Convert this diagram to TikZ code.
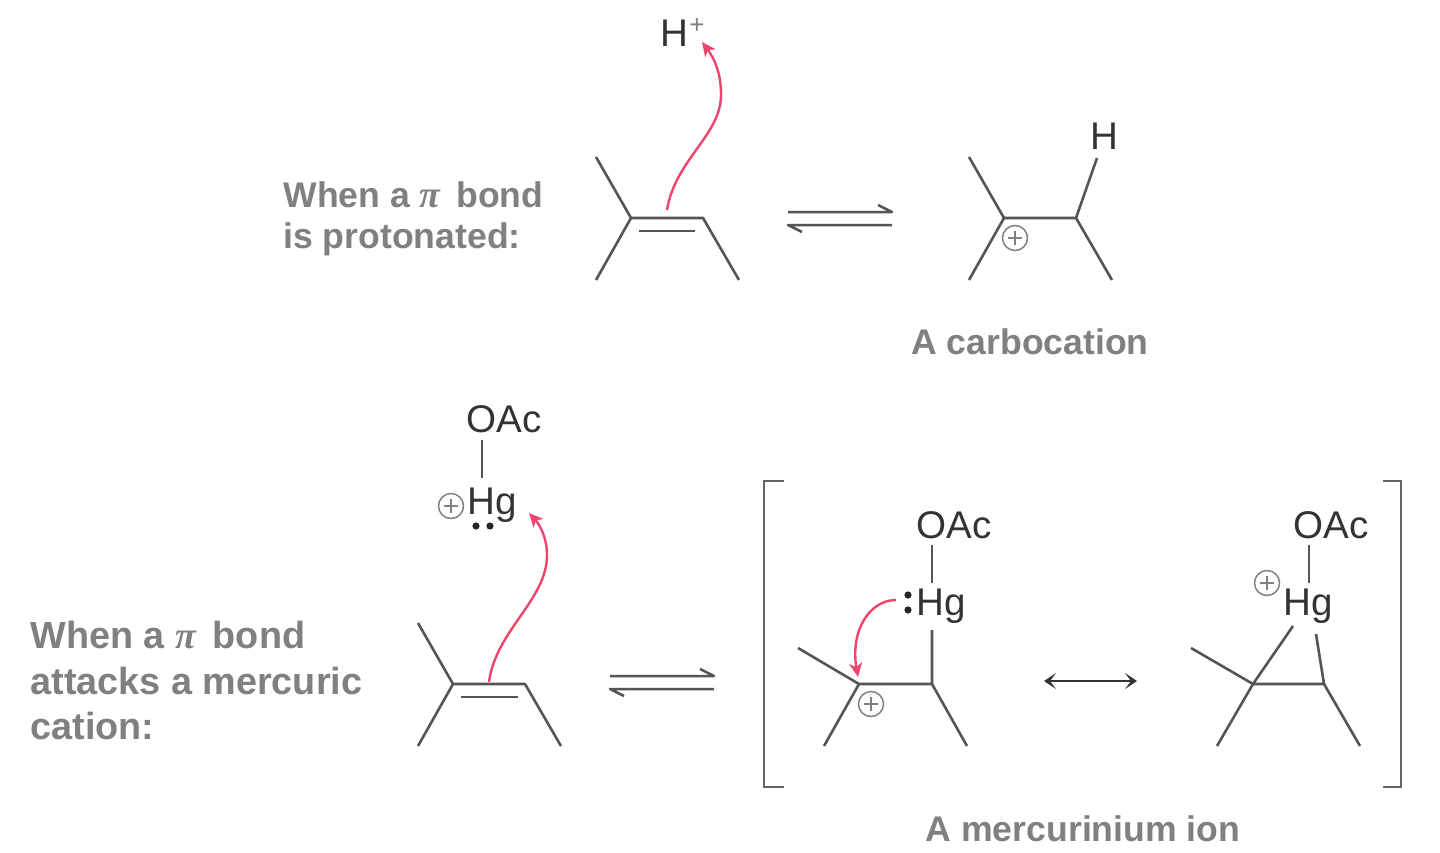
\documentclass[tikz,border=0pt]{standalone}
\usepackage{fontspec}
\setmainfont{Liberation Sans}
\newfontfamily\piserif{Liberation Serif}
\usetikzlibrary{arrows.meta}
\definecolor{bondc}{HTML}{555555}
\definecolor{labelc}{HTML}{808080}
\definecolor{atomc}{HTML}{333333}
\definecolor{redc}{HTML}{F0456A}
\definecolor{plusc}{HTML}{808080}
\definecolor{brackc}{HTML}{666666}
\newcommand{\pilett}{{\piserif\itshape\fontsize{19}{19}\selectfont π}}
\tikzset{
  x=0.5pt,y=-0.5pt,
  bond/.style={draw=bondc,line width=1.3pt},
  eqarrow/.style={draw=bondc,line width=1.25pt},
  bracket/.style={draw=brackc,line width=1.35pt},
  atom/.style={inner sep=0pt,text=atomc,font=\fontsize{19.3}{19}\selectfont},
  caption/.style={inner sep=0pt,text=labelc,font=\fontsize{17.8}{22}\selectfont\bfseries,align=left},
  captionlg/.style={inner sep=0pt,text=labelc,font=\fontsize{18.9}{22}\selectfont\bfseries,align=left},
  pluscircle/.style={circle,draw=plusc,line width=0.75pt,minimum size=12.5pt,inner sep=0pt},
  curly/.style={draw=redc,line width=1.2pt,-{Stealth[length=7pt,width=6.5pt,inset=2pt]}},
  lonepair/.style={circle,fill=black!85,minimum size=3.6pt,inner sep=0pt},
}
\newcommand{\plusmark}[2]{%
  \node[pluscircle] (#1) at #2 {};
  \draw[plusc,line width=0.6pt] (#1.center)++(-7,0) -- ++(14,0);
  \draw[plusc,line width=0.6pt] (#1.center)++(0,-7) -- ++(0,14);
}
\begin{document}
\begin{tikzpicture}
\useasboundingbox (0,0) rectangle (1440,852);

% ---------- top row: alkene
\coordinate (ta1) at (596,157);
\coordinate (ta2) at (596,280);
\coordinate (tc1) at (631,218);
\coordinate (tc2) at (703,218);
\coordinate (ta3) at (739,280);
\coordinate (td1) at (639,231);
\coordinate (td2) at (695,231);
\draw[bond,line join=round] (ta1) -- (tc1) -- (ta2);
\draw[bond,line join=round] (tc1) -- (tc2) -- (ta3);
\draw[bond] (td1) -- (td2);
\node[atom] (hplus) at (674,33) {H};
\node[inner sep=0pt,text=plusc,font=\fontsize{13}{13}\selectfont] (hpsign) at (697,26) {+};
\coordinate (tas) at (667,210);
\coordinate (tam) at (721,95);
\coordinate (tat) at (702,42);
\draw[curly] (tas) .. controls (675,160) and (721,135) .. (tam) .. controls (721,72) and (714,58) .. (tat);

% top equilibrium arrows
\coordinate (te1) at (788,212);
\coordinate (te2) at (892,212);
\coordinate (te3) at (878,205);
\coordinate (te4) at (788,225);
\coordinate (te5) at (892,225);
\coordinate (te6) at (802,232);
\draw[eqarrow,line join=round] (te1) -- (te2) -- (te3);
\draw[eqarrow,line join=round] (te5) -- (te4) -- (te6);

% top carbocation
\coordinate (tb1) at (969,157);
\coordinate (tb2) at (969,280);
\coordinate (tk1) at (1004,218);
\coordinate (tk2) at (1076,218);
\coordinate (tb3) at (1112,280);
\coordinate (thb) at (1097,158);
\draw[bond,line join=round] (tb1) -- (tk1) -- (tb2);
\draw[bond,line join=round] (tk1) -- (tk2) -- (tb3);
\draw[bond] (tk2) -- (thb);
\node[atom] (th) at (1104,136) {H};
\plusmark{tplus}{(1015,238)}

\node[caption,anchor=west] (lab1a) at (283,195) {When a \pilett\,\ bond};
\node[caption,anchor=west] (lab1b) at (283,239) {is protonated:};
\node[caption] (lab2) at (1030,342) {A carbocation};

% ---------- bottom left: mercuric cation
\node[atom] (oac1) at (504,419) {OAc};
\coordinate (b1t) at (482,440);
\coordinate (b1b) at (482,478);
\draw[bond] (b1t) -- (b1b);
\node[atom] (hg1) at (492,505) {Hg};
\plusmark{hplus1}{(451,506)}
\node[lonepair] (lp1) at (476,526) {};
\node[lonepair] (lp2) at (490,526) {};

% bottom alkene
\coordinate (ba1) at (418,623);
\coordinate (ba2) at (418,746);
\coordinate (bc1) at (453,684);
\coordinate (bc2) at (525,684);
\coordinate (ba3) at (561,746);
\coordinate (bd1) at (461,697);
\coordinate (bd2) at (518,697);
\draw[bond,line join=round] (ba1) -- (bc1) -- (ba2);
\draw[bond,line join=round] (bc1) -- (bc2) -- (ba3);
\draw[bond] (bd1) -- (bd2);
\coordinate (bas) at (489,682);
\coordinate (bam) at (547,555);
\coordinate (bat) at (529,513);
\draw[curly] (bas) .. controls (496,630) and (547,600) .. (bam) .. controls (547,538) and (540,525) .. (bat);

% bottom equilibrium arrows
\coordinate (be1) at (610,676);
\coordinate (be2) at (714,676);
\coordinate (be3) at (700,669);
\coordinate (be4) at (610,689);
\coordinate (be5) at (714,689);
\coordinate (be6) at (624,696);
\draw[eqarrow,line join=round] (be1) -- (be2) -- (be3);
\draw[eqarrow,line join=round] (be5) -- (be4) -- (be6);

\node[captionlg,anchor=west] (lab3a) at (30,635) {When a \pilett\,\ bond};
\node[captionlg,anchor=west] (lab3b) at (30,681) {attacks a mercuric};
\node[captionlg,anchor=west] (lab3c) at (30,726) {cation:};

% brackets
\coordinate (lb1) at (784,481);
\coordinate (lb2) at (764,481);
\coordinate (lb3) at (764,787);
\coordinate (lb4) at (784,787);
\coordinate (rb1) at (1383,481);
\coordinate (rb2) at (1401,481);
\coordinate (rb3) at (1401,787);
\coordinate (rb4) at (1383,787);
\draw[bracket] (lb1) -- (lb2) -- (lb3) -- (lb4);
\draw[bracket] (rb1) -- (rb2) -- (rb3) -- (rb4);

% resonance form 1
\node[atom] (oac2) at (954,525) {OAc};
\coordinate (r1t) at (932,545);
\coordinate (r1b) at (932,583);
\draw[bond] (r1t) -- (r1b);
\node[atom] (hg2) at (941,606) {Hg};
\node[lonepair] (lp3) at (908,595) {};
\node[lonepair] (lp4) at (908,610) {};
\coordinate (r1h) at (932,630);
\coordinate (r1c2) at (932,684);
\coordinate (r1c1) at (859,684);
\coordinate (r1a1) at (798,648);
\coordinate (r1a2) at (824,746);
\coordinate (r1a3) at (967,746);
\draw[bond,line join=round] (r1h) -- (r1c2) -- (r1c1) -- (r1a1);
\draw[bond] (r1c1) -- (r1a2);
\draw[bond] (r1c2) -- (r1a3);
\plusmark{rplus1}{(871,704)}
\coordinate (r1s) at (896,600);
\coordinate (r1e) at (858,677);
\draw[curly] (r1s) .. controls (870,600) and (850,630) .. (r1e);

% resonance arrow
\coordinate (ra1) at (1044,681);
\coordinate (ra2) at (1137,681);
\draw[draw=atomc,line width=1.2pt,{Stealth[length=6pt,width=8pt,inset=3pt]}-{Stealth[length=6pt,width=8pt,inset=3pt]}] (ra1) -- (ra2);

% resonance form 2
\node[atom] (oac3) at (1331,525) {OAc};
\coordinate (r2t) at (1309,545);
\coordinate (r2b) at (1309,583);
\draw[bond] (r2t) -- (r2b);
\node[atom] (hg3) at (1308,606) {Hg};
\plusmark{rplus2}{(1267,583)}
\coordinate (r2h1) at (1293,626);
\coordinate (r2h2) at (1316,634);
\coordinate (r2c1) at (1253,684);
\coordinate (r2c2) at (1324,684);
\coordinate (r2a1) at (1191,648);
\coordinate (r2a2) at (1217,746);
\coordinate (r2a3) at (1360,746);
\draw[bond,line join=round] (r2h1) -- (r2c1) -- (r2c2) -- (r2h2);
\draw[bond] (r2c1) -- (r2a1);
\draw[bond] (r2c1) -- (r2a2);
\draw[bond] (r2c2) -- (r2a3);

\node[caption] (lab4) at (1083,829) {A mercurinium ion};
\end{tikzpicture}
\end{document}
